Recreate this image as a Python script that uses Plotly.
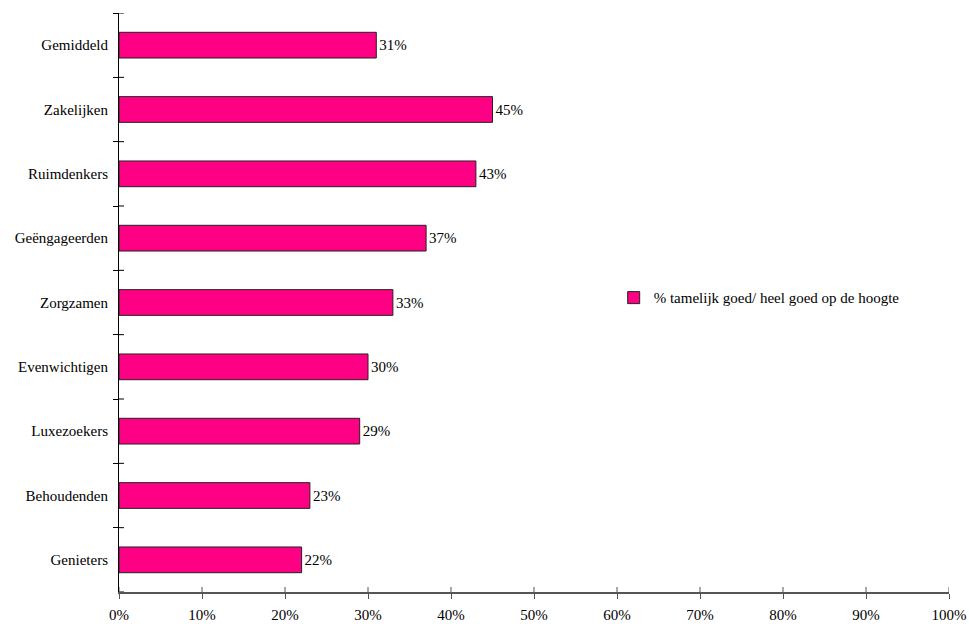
import plotly.graph_objects as go

categories = ["Gemiddeld", "Zakelijken", "Ruimdenkers", "Geëngageerden", "Zorgzamen",
              "Evenwichtigen", "Luxezoekers", "Behoudenden", "Genieters"]
values = [31, 45, 43, 37, 33, 30, 29, 23, 22]
series_name = "% tamelijk goed/ heel goed op de hoogte"
x_ticks = [0, 10, 20, 30, 40, 50, 60, 70, 80, 90, 100]
x_tick_labels = [f"{v}%" for v in x_ticks]

FONT = "Liberation Serif"
FS = 15

fig = go.Figure()
fig.add_trace(go.Bar(
    y=categories, x=values, orientation="h", name=series_name,
    marker=dict(color="#ff0084", line=dict(color="#222", width=1)),
    width=0.4,
    text=[f"{v}%" for v in values], textposition="outside",
    textfont=dict(family=FONT, size=FS, color="black"),
    cliponaxis=False, showlegend=True,
))

# inside halves of crossing ticks
shapes = []
for k in range(len(categories) + 1):
    shapes.append(dict(type="line", xref="paper", x0=0, x1=5 / 830, yref="y",
                       y0=k - 0.5, y1=k - 0.5, line=dict(color="black", width=1)))
for v in x_ticks:
    shapes.append(dict(type="line", xref="x", x0=v, x1=v, yref="paper",
                       y0=0, y1=5 / 579, line=dict(color="#555", width=1)))

fig.update_layout(
    width=969, height=624,
    margin=dict(l=119, r=20, t=13, b=32, autoexpand=False),
    paper_bgcolor="white", plot_bgcolor="white",
    font=dict(family=FONT, size=FS, color="black"),
    shapes=shapes,
    xaxis=dict(range=[0, 100], tickvals=x_ticks, ticktext=x_tick_labels,
               showgrid=False, zeroline=False, showline=True, linecolor="#555",
               linewidth=1.5, ticks="outside", ticklen=5, tickcolor="#555",
               automargin=False, ticklabelstandoff=3,
               tickfont=dict(family=FONT, size=FS, color="black")),
    yaxis=dict(range=[len(categories) - 0.5, -0.5], type="category",
               showgrid=False, zeroline=False, showline=True, linecolor="black",
               linewidth=1, ticks="outside", ticklen=5, tickcolor="black",
               tickson="boundaries", automargin=False, ticklabelstandoff=7,
               tickfont=dict(family=FONT, size=FS, color="black")),
    legend=dict(x=0.596, y=0.508, xanchor="left", yanchor="middle",
                bgcolor="rgba(0,0,0,0)", font=dict(family=FONT, size=FS)),
    bargap=0.6,
)

fig.write_html("out.html", config={"displayModeBar": False},
               post_script="document.body.style.margin='0';")
